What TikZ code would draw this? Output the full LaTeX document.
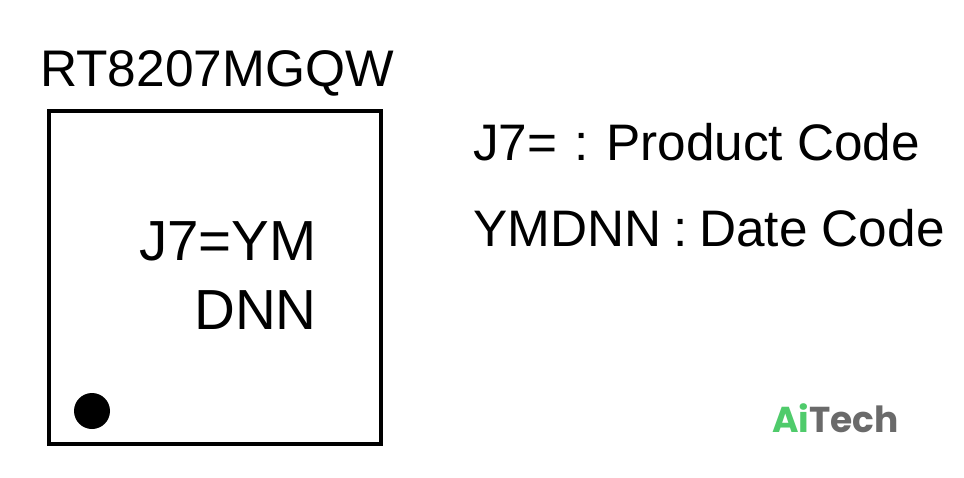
\documentclass[tikz,border=0pt]{standalone}
\usepackage{fontspec}
\setmainfont{Liberation Sans}
\newfontfamily\logofont{Poppins}
\definecolor{aigreen}{HTML}{4FCB6B}
\definecolor{techgrey}{HTML}{6A6A6A}
\tikzset{
 lab/.style={inner sep=0pt,anchor=base west,text=black},
 side/.style={lab,font=\fontsize{38.5pt}{38.5pt}\selectfont},
 inbox/.style={lab,anchor=base east,font=\fontsize{42.4pt}{42.4pt}\selectfont},
}
\begin{document}
\begin{tikzpicture}[x=0.75pt,y=-0.75pt]
\useasboundingbox[fill=white] (0,0) rectangle (964,478);
\node[draw=black,line width=3pt,minimum width=249.4pt,minimum height=249.4pt,inner sep=0pt,anchor=north west] (chip) at (46.8,109.1) {};
\fill[black] (92,411) circle (18);
\node[lab,font=\fontsize{38.6pt}{38.6pt}\selectfont] (title) at (40,87) {RT8207MGQW};
\node[inbox] (l1) at (317,260) {J7=YM};
\node[inbox] (l2) at (317,329) {DNN};
\node[side] (a1) at (473,160) {J7=};
\node[side] (a2) at (574,160) {:};
\node[side] (a3) at (606,160) {Product Code};
\node[side] (b1) at (473,246) {YMDNN};
\node[side] (b2) at (673,246) {:};
\node[side] (b3) at (699,246) {Date Code};
\node[lab,font=\logofont\bfseries\fontsize{27pt}{27pt}\selectfont] (logo) at (772,432) {\textcolor{aigreen}{Ai}\textcolor{techgrey}{Tech}};
\end{tikzpicture}
\end{document}
